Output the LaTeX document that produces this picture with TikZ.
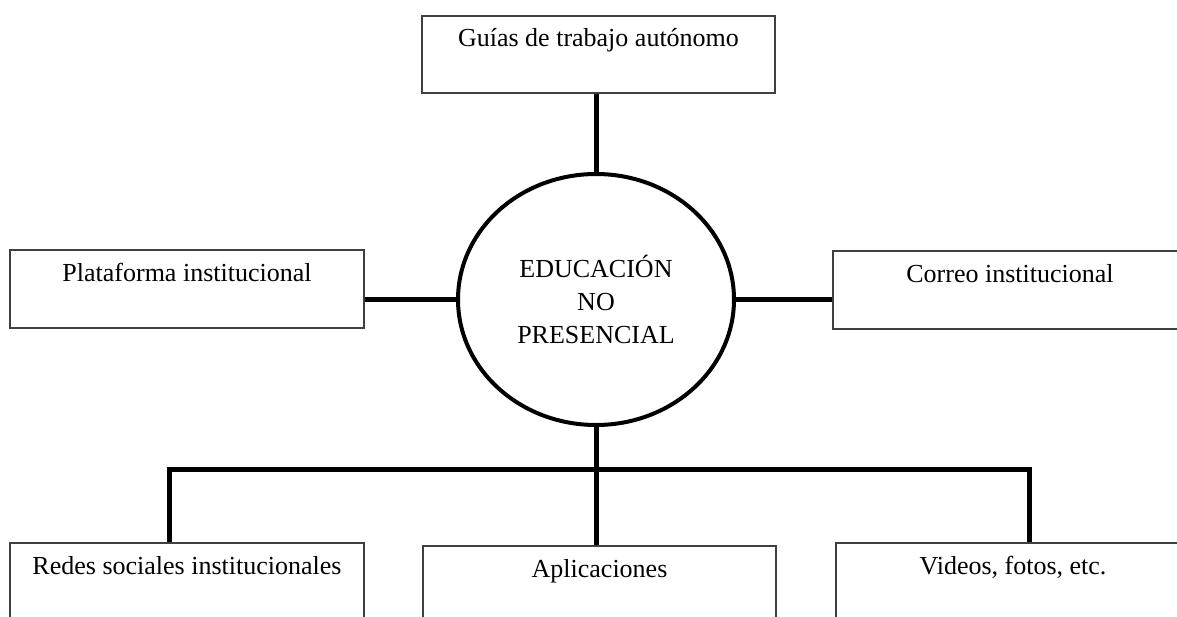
\documentclass[tikz,border=0pt]{standalone}
\usepackage{fontspec}
\setmainfont{Liberation Serif}
\usepackage{tikz}
\usetikzlibrary{positioning}
\usetikzlibrary{shapes.geometric}
\begin{document}
\begin{tikzpicture}[x=1pt, y=-1pt,
			outlet/.style={draw=black!75, line width=1.3pt, rectangle, inner sep=0pt, minimum width=354pt, minimum height=78pt, text height=18pt, text depth=34pt},
			hub/.style={draw, ellipse, line width=4pt, inner sep=0pt, minimum width=276pt, minimum height=251pt},
			link/.style={line width=5pt},
			every text node part/.style={align=center},
			font=\fontsize{26pt}{33pt}\selectfont]
			\clip (0,0) rectangle (1177,616);
			\node[hub](educ) at (596, 299.5) {EDUCACIÓN\\NO\\PRESENCIAL};
			
			\node[outlet, minimum height=77pt, minimum width=353pt](guias) at (598.5, 54.5) {Guías de trabajo autónomo};
			\node[outlet](plataforma) at (187, 289) {Plataforma institucional};
			\node[outlet](correo) at (1010, 290) {Correo institucional};
			
			\node[outlet](redes) at (187, 582) {Redes sociales institucionales};
			\node[outlet, minimum width=353pt](aplicaciones) at (599.5, 585) {Aplicaciones};
			\node[outlet](videos) at (1013, 582) {Videos, fotos, etc.};
			
			\coordinate (busL) at (169, 469);
			\coordinate (busR) at (1029, 469);
			
			\draw[link] (educ.north) -- (educ.north |- guias.south);
			\draw[link] (educ.west) -- (educ.west -| plataforma.east);
			\draw[link] (educ.east) -- (educ.east -| correo.west);
			\draw[link] (educ.south) -- (educ.south |- aplicaciones.north);
			\draw[link] (busL |- redes.north) -- (busL) -- (busR) -- (busR |- videos.north);
			
		\end{tikzpicture}
\end{document}
